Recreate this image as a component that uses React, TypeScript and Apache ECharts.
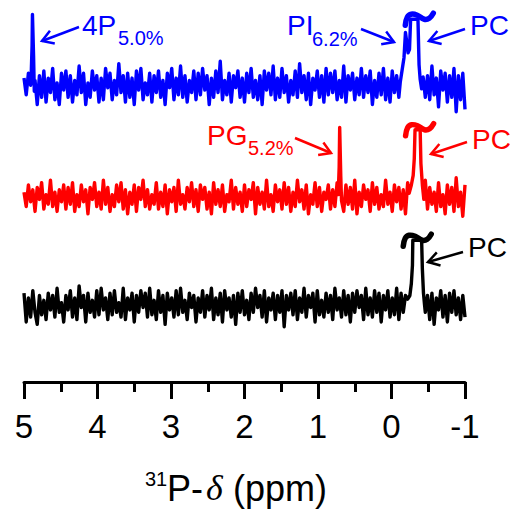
import React, { useEffect, useRef } from "react";
import * as echarts from "echarts";

// ---- data ----
const AXIS_MIN = -1;
const AXIS_MAX = 5;
const AXIS_INTERVAL = 1;
const PPM_START = 5;
const PPM_STEP = 0.03;
const Y_MAX = 318;

const blueNoise = [
  6, -8, 10, 0, -12, 4, -16, 8, -10, 12, -14, 6, -6, 14, -12, 2, -16, 10, -4, 12,
  -10, 8, -14, 4, -8, 16, -6, 10, -16, 2, -10, 12, -4, 8, -14, 6, -12, 14, -2, 10,
  -12, 4, -8, 18, -6, 8, -14, 10, -10, 6, -16, 12, -4, 14, -12, 2, -8, 10, -14, 8,
  -6, 12, -10, 4, -16, 10, -2, 14, -12, 6, -8, 16, -10, 8, -14, 4, -6, 12, -12, 10,
  -8, 14, -4, 8, -16, 6, -10, 12, -6, 20, -12, 4, -8, 10, -14, 8, -2, 12, -10, 6,
  -14, 10, -6, 14, -10, 4, -12, 8, -16, 12, -4, 10, -8, 16, -12, 6, -10, 14, -6, 8,
  -14, 4, -8, 12, -10, 18, -6, 8, -12, 10, -16, 6, -4, 12, -10, 8, -14, 14, -8, 10,
  -6, 12, -12, 4, -10, 16, -14, 8, -4, 10, -12, 6, -8, 14, -10, 8, -6, 12, -16, 4,
  -10, 10, -8, 14, -12, 6, -14, 12, -6, 8, -10, 4, -14, 10, -8, 12, -12, 6, -16, 10,
  -6, 14, -10, 8, -12, 16, -8, 6, -18, 12, -4, 10, -14, 8, -10, 14, -22, 8, -12, 10,
  -20,
];

const redNoise = [
  4, -8, 10, -4, 6, -12, 8, -2, 12, -10, 2, -6, 14, -8, 4, -12, 6, -4, 10, -10,
  8, -6, 12, -12, 2, -8, 10, -4, 6, -14, 8, -2, 12, -8, 4, -10, 14, -6, 8, -12,
  2, -8, 10, -4, 12, -10, 6, -14, 4, -6, 10, -12, 8, -2, 14, -8, 6, -10, 2, -6,
  12, -10, 4, -8, 10, -14, 6, -4, 8, -12, 14, -6, 2, -10, 8, -4, 12, -8, 6, -12,
  10, -2, 8, -10, 4, -14, 12, -6, 6, -8, 10, -12, 2, -4, 14, -10, 8, -6, 4, -12,
  10, -8, 6, -2, 12, -14, 8, -6, 4, -10, 14, -8, 2, -12, 10, -4, 6, -10, 12, -6,
  8, -12, 4, -8, 14, -4, 6, -10, 10, -14, 2, -6, 12, -8, 8, -12, 4, -2, 10, -10,
  6, -8, 12, -4, 2, -12, 10, -6, 8, -10, 14, -14, 4, -8, 10, -2, 6, -12, 12, -6,
  8, -10, 2, -8, 14, -6, 4, -12, 10, -4, 8, -10, 6, -14, 12, -6, 2, -8, 10, -12,
  6, -4, 14, -10, 8, -6, 4, -12, 12, -8, 2, -14, 10, -6, 8, -12, 16, -8, 4, -16,
  10,
];

const blackNoise = [
  10, -14, 6, -10, 12, -6, -16, 8, -8, 4, -12, 10, -4, 8, -10, 14, -6, 2, -14, 8,
  -4, 12, -10, 6, -12, 16, -2, 8, -14, 10, -6, 4, -10, 12, -8, 14, -4, 6, -12, 10,
  -8, 12, -6, 2, -10, 14, -12, 6, -4, 10, -14, 8, -6, 12, -2, 10, -10, 14, -8, 4,
  -12, 12, -6, 8, -16, 10, -4, 6, -10, 12, -8, 14, -6, 4, -12, 10, -2, 8, -14, 6,
  -6, 12, -10, 8, -4, 14, -12, 6, -8, 10, -14, 12, -4, 6, -10, 8, -16, 10, -6, 12,
  -8, 4, -12, 10, -6, 14, -2, 8, -10, 12, -14, 6, -4, 10, -12, 8, -6, 12, -18, 8,
  -4, 10, -8, 12, -12, 6, -6, 14, -10, 8, -2, 10, -14, 12, -8, 4, -10, 10, -6, 8,
  -12, 14, -4, 6, -10, 12, -8, 8, -14, 10, -6, 12, -2, 8, -12, 14, -8, 6, -10, 12,
  -6, 10, -14, 8, -4, 12, -10, 6, -8, 14, -12, 10, -6, 8, -10, 12, -4, 6, -12, 10,
  -8, 14, -6, 8, -12, 10, -16, 6, -4, 12, -10, 8, -14, 10, -6, 12, -8, 6, -12, 8,
  -10,
];

// peak segments [ppm, intensity]
const blue4P: [number, number][] = [
  [4.905, 3], [4.89, 33], [4.885, 59], [4.877, 59], [4.87, 25], [4.86, -5],
];
const bluePIPC: [number, number][] = [
  [-0.12, 3], [-0.145, 13], [-0.17, 23], [-0.19, 44], [-0.205, 37], [-0.225, 27],
  [-0.245, 30], [-0.26, 55], [-0.36, 55], [-0.375, 17], [-0.39, 5], [-0.41, -3], [-0.43, 7],
];
const redPG: [number, number][] = [
  [0.725, 2], [0.712, 25], [0.705, 58], [0.698, 58], [0.69, 17], [0.68, -3],
];
const redPC: [number, number][] = [
  [-0.24, 3], [-0.27, 10], [-0.295, 18], [-0.31, 32], [-0.32, 56], [-0.39, 56],
  [-0.4, 28], [-0.42, 10], [-0.44, -2], [-0.455, 5],
];
const blackPC: [number, number][] = [
  [-0.22, 5], [-0.25, 8], [-0.27, 18], [-0.285, 33], [-0.29, 54], [-0.41, 54],
  [-0.42, 30], [-0.435, 10], [-0.45, 0],
];

// truncated peak tops (ppm of centre, relative intensity of top)
const blueTop: [number, number] = [-0.31, 55];
const redTop: [number, number] = [-0.355, 56];
const blackTop: [number, number] = [-0.35, 54];

const BLUE = "#0000ff";
const RED = "#ff0000";
const BLACK = "#000000";
const BLUE_OFFSET = 247;
const RED_OFFSET = 154;
const BLACK_OFFSET = 64;

const SANS = '"Liberation Sans", Arial, sans-serif';

function buildTrace(noise: number[], groups: [number, number][][], offset: number) {
  const pts: [number, number][] = [];
  noise.forEach((v, i) => {
    const ppm = PPM_START - i * PPM_STEP;
    const inside = groups.some((g) => {
      const xs = g.map((p) => p[0]);
      return ppm <= Math.max(...xs) + 1e-6 && ppm >= Math.min(...xs) - 1e-6;
    });
    if (!inside) pts.push([ppm, v + offset]);
  });
  groups.forEach((g) => g.forEach(([x, v]) => pts.push([x, v + offset])));
  pts.sort((a, b) => b[0] - a[0]);
  return pts;
}

function arrow(x1: number, y1: number, x2: number, y2: number, color: string) {
  const dx = x1 - x2;
  const dy = y1 - y2;
  const len = Math.hypot(dx, dy);
  const ux = dx / len;
  const uy = dy / len;
  const L = 13;
  const a = 0.55;
  const c = Math.cos(a);
  const s = Math.sin(a);
  const p1 = [x2 + L * (ux * c - uy * s), y2 + L * (ux * s + uy * c)];
  const p2 = [x2 + L * (ux * c + uy * s), y2 + L * (-ux * s + uy * c)];
  return [
    { type: "line", shape: { x1, y1, x2, y2 }, style: { stroke: color, lineWidth: 2.5 } },
    {
      type: "polyline",
      shape: { points: [p1, [x2, y2], p2] },
      style: { stroke: color, lineWidth: 2.5, fill: null },
    },
  ];
}

function label(text: string, x: number, y: number, size: number, color: string, font = SANS, italic = false) {
  return {
    type: "text",
    x,
    y,
    style: {
      text,
      fill: color,
      fontSize: size,
      fontFamily: font,
      fontStyle: italic ? "italic" : "normal",
      verticalAlign: "middle",
      align: "left",
    },
  };
}

const CURL: [number, number][] = [
  [-14, 8], [-12, 0], [-8, -3], [-2, -2], [5, 2], [10, 1], [14, -4],
];

export default function App() {
  const ref = useRef<HTMLDivElement>(null);
  useEffect(() => {
    if (!ref.current) return;
    const chart = echarts.init(ref.current, null, { renderer: "svg" });
    const mk = (data: [number, number][], color: string) => ({
      type: "line",
      data,
      showSymbol: false,
      symbol: "none",
      lineStyle: { color, width: 3.4, join: "round" },
      itemStyle: { color },
    });
    chart.setOption({
      animation: false,
      grid: { left: 24, right: 45, top: 0, bottom: 135 },
      xAxis: {
        type: "value",
        inverse: true,
        min: AXIS_MIN,
        max: AXIS_MAX,
        interval: AXIS_INTERVAL,
        splitLine: { show: false },
        axisLine: { show: true, lineStyle: { color: BLACK, width: 3 } },
        axisTick: { show: true, inside: false, length: 17, lineStyle: { color: BLACK, width: 3 } },
        minorTick: { show: true, splitNumber: 2, length: 10, lineStyle: { color: BLACK, width: 3 } },
        axisLabel: { color: BLACK, fontSize: 33, fontFamily: SANS, margin: 28 },
      },
      yAxis: { type: "value", min: 0, max: Y_MAX, show: false },
      series: [
        mk(buildTrace(blueNoise, [blue4P, bluePIPC], BLUE_OFFSET), BLUE),
        mk(buildTrace(redNoise, [redPG, redPC], RED_OFFSET), RED),
        mk(buildTrace(blackNoise, [blackPC], BLACK_OFFSET), BLACK),
      ],
    });

    const curls = [
      { top: blueTop, off: BLUE_OFFSET, dx: 5, color: BLUE },
      { top: redTop, off: RED_OFFSET, dx: 2, color: RED },
      { top: blackTop, off: BLACK_OFFSET, dx: 0, color: BLACK },
    ].map((c) => {
      const [px, py] = chart.convertToPixel({ gridIndex: 0 }, [c.top[0], c.top[1] + c.off]) as number[];
      return {
        type: "polyline",
        shape: { points: CURL.map(([dx, dy]) => [px + c.dx + dx, py - 2 + dy]), smooth: 0.4 },
        style: { stroke: c.color, lineWidth: 5.5, fill: null, lineCap: "round" },
        z: 10,
      };
    });

    chart.setOption({
      graphic: [
        label("4P", 82, 25, 28, BLUE),
        label("5.0%", 118, 38, 20, BLUE),
        label("PI", 287, 25, 28, BLUE),
        label("6.2%", 312, 39, 20, BLUE),
        label("PC", 470, 25, 28, BLUE),
        label("PG", 207, 135, 28, RED),
        label("5.2%", 248, 148, 20, RED),
        label("PC", 472, 139, 28, RED),
        label("PC", 468, 247, 28, BLACK),
        ...arrow(79, 27, 42, 41, BLUE),
        ...arrow(361, 29, 394, 42, BLUE),
        ...arrow(465, 29, 429, 41, BLUE),
        ...arrow(295, 138, 331, 153, RED),
        ...arrow(467, 142, 431, 154, RED),
        ...arrow(463, 252, 428, 262, BLACK),
        ...curls,
        label("31", 145, 479, 20, BLACK),
        label("P-", 167, 488, 36, BLACK),
        label("\u03b4", 206, 488, 36, BLACK, '"Liberation Serif", "Times New Roman", serif', true),
        label("(ppm)", 233, 488, 36, BLACK),
      ],
    });
    return () => chart.dispose();
  }, []);
  return (
    <div
      ref={ref}
      style={{ position: "fixed", left: 0, top: 0, width: 510, height: 517, background: "#fff" }}
    />
  );
}
